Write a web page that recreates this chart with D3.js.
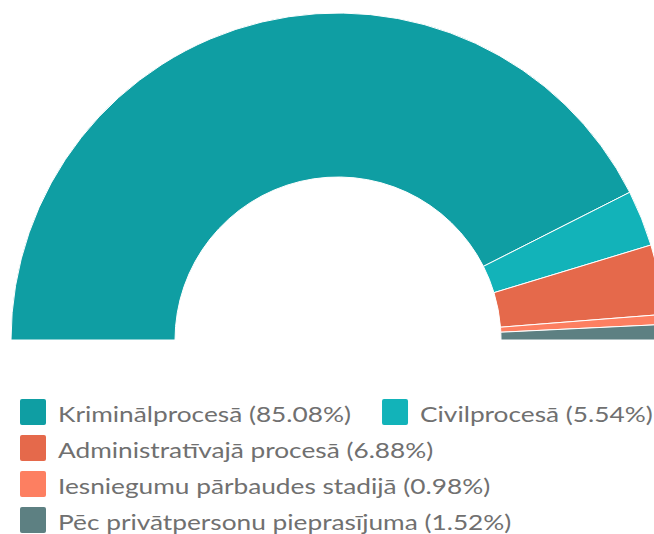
<!DOCTYPE html>
<html>
<head>
<meta charset="utf-8">
<script src="https://cdn.jsdelivr.net/npm/d3@7"></script>
<style>
  body { margin: 0; background: #fff; }
  svg { display: block; }
</style>
</head>
<body>
<div class="chart"></div>
<script>
// chart data
const categories = [
  'Kriminālprocesā',
  'Civilprocesā',
  'Administratīvajā procesā',
  'Iesniegumu pārbaudes stadijā',
  'Pēc privātpersonu pieprasījuma'
];
const shares = [85.08, 5.54, 6.88, 0.98, 1.52];
const colors = ['#0f9ea3', '#12b3b9', '#e5694b', '#fd7f61', '#5d8082'];

const width = 654;
const height = 534;

const svg = d3.select('.chart')
    .append('svg')
    .attr('width', width)
    .attr('height', height);

const data = categories.map((c, i) => ({ name: c, value: shares[i], color: colors[i] }));

// half donut
const cx = 338, cy = 340;
const outerR = 327, innerR = 163;

const pie = d3.pie()
    .sort(null)
    .value(d => d.value)
    .startAngle(-Math.PI / 2)
    .endAngle(Math.PI / 2);

const arc = d3.arc()
    .innerRadius(innerR)
    .outerRadius(outerR);

svg.append('g')
    .attr('transform', `translate(${cx},${cy})`)
  .selectAll('path')
    .data(pie(data))
    .enter()
    .append('path')
    .attr('d', arc)
    .attr('fill', d => d.data.color)
    .attr('stroke', '#fff')
    .attr('stroke-width', 1)
    .attr('stroke-linejoin', 'round');

// legend, items flow left to right and wrap
const legend = svg.append('g');
const boxSize = 26;
const rowStep = 36;
const startX = 20, startY = 399;
const maxX = 660;
const stretch = 1.25; // the labels look widened in the original
let x = startX, y = startY;

data.forEach(d => {
  const item = legend.append('g');
  item.append('rect')
      .attr('width', boxSize)
      .attr('height', boxSize)
      .attr('rx', 2)
      .attr('fill', d.color);
  const label = item.append('text')
      .text(`${d.name} (${d.value.toFixed(2)}%)`)
      .attr('transform', `translate(${boxSize + 12},23) scale(${stretch},1)`)
      .attr('fill', '#707070')
      .style('font-family', 'Lato, sans-serif')
      .style('font-size', '21px');
  const w = boxSize + 12 + label.node().getComputedTextLength() * stretch;
  if (x > startX && x + w > maxX) {
    x = startX;
    y += rowStep;
  }
  item.attr('transform', `translate(${x},${y})`);
  x += w + 31;
});
</script>
</body>
</html>
